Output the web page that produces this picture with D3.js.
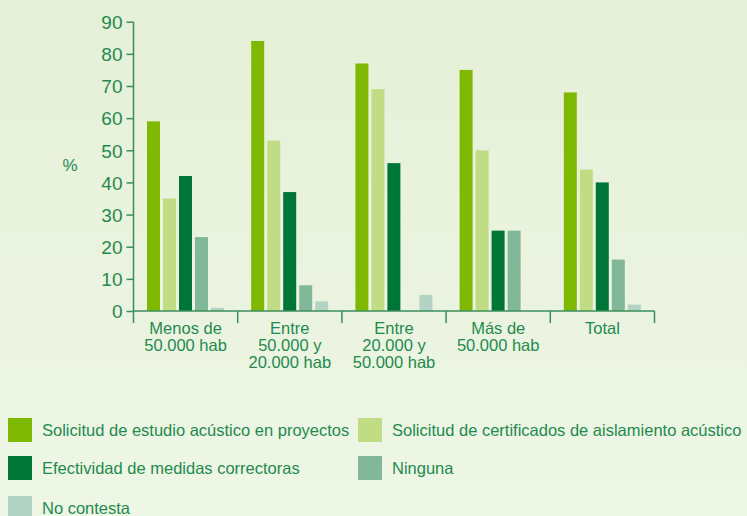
<!DOCTYPE html>
<html><head><meta charset="utf-8">
<script src="https://cdn.jsdelivr.net/npm/d3@7"></script>
<style>html,body{margin:0;padding:0;overflow:hidden}svg{display:block}</style>
</head><body>
<svg id="chart" width="747" height="516"></svg>
<script>
const categories = [["Menos de","50.000 hab"],["Entre","50.000 y","20.000 hab"],["Entre","20.000 y","50.000 hab"],["Más de","50.000 hab"],["Total"]];
const categoryKeys = ["c1","c2","c3","c4","c5"];
const seriesNames = ["Solicitud de estudio acústico en proyectos","Solicitud de certificados de aislamiento acústico","Efectividad de medidas correctoras","Ninguna","No contesta"];
const seriesColors = ["#7fb800","#c0dd85","#007538","#80b899","#b3d4c4"];
const values = [
  [59, 35, 42, 23, 1],
  [84, 53, 37, 8, 3],
  [77, 69, 46, 0, 5],
  [75, 50, 25, 25, 0],
  [68, 44, 40, 16, 2]
];
const yTicks = [0,10,20,30,40,50,60,70,80,90];

const svg = d3.select("#chart");
const defs = svg.append("defs");
const g = defs.append("linearGradient").attr("id","bg").attr("x1",0).attr("y1",0).attr("x2",0).attr("y2",1);
g.append("stop").attr("offset","0%").attr("stop-color","#e6f0d7");
g.append("stop").attr("offset","100%").attr("stop-color","#eef6e6");
svg.append("rect").attr("width",747).attr("height",516).attr("fill","url(#bg)");

const textColor = "#1f8a4e";
const axisColor = "#3d8c5d";
const font = "'Liberation Sans', Arial, sans-serif";

const x0 = d3.scaleBand().domain(categoryKeys).range([133.5, 654.5]);
const x1 = d3.scaleBand().domain(d3.range(seriesNames.length)).range([13.5, 90.5]).paddingInner(3/16);
const y = d3.scaleLinear().domain([0,90]).range([311, 21.7]);

// bars
const groups = svg.append("g").selectAll("g").data(values).join("g")
  .attr("transform",(d,i)=>`translate(${x0(categoryKeys[i])},0)`);
groups.selectAll("rect").data(d=>d.map((v,j)=>({v,j}))).join("rect")
  .attr("x",d=>x1(d.j)).attr("width",x1.bandwidth())
  .attr("y",d=>y(d.v)).attr("height",d=>y(0)-y(d.v))
  .attr("fill",d=>seriesColors[d.j]);

// y axis
const yAxis = svg.append("g").attr("transform","translate(133.5,0)")
  .call(d3.axisLeft(y).tickValues(yTicks).tickSize(7).tickPadding(4).tickSizeOuter(0));
yAxis.select(".domain").remove();
yAxis.append("line").attr("x1",0).attr("x2",0).attr("y1",y(90)).attr("y2",323).attr("stroke",axisColor).attr("stroke-width",1.5);
yAxis.selectAll(".tick line").attr("stroke",axisColor).attr("stroke-width",1.5);
yAxis.selectAll(".tick text").attr("fill",textColor).attr("font-family",font).attr("font-size",19).attr("dy","0.36em");

// x axis
const xAxis = svg.append("g").attr("transform","translate(0,311)");
xAxis.append("line").attr("x1",133.5).attr("x2",654.5).attr("y1",0).attr("y2",0).attr("stroke",axisColor).attr("stroke-width",1.5);
const bounds = categoryKeys.map(k=>x0(k)+x0.bandwidth());
xAxis.selectAll("line.div").data(bounds).join("line").attr("class","div")
  .attr("x1",d=>d).attr("x2",d=>d).attr("y1",0).attr("y2",12).attr("stroke",axisColor).attr("stroke-width",1.5);
const labels = xAxis.selectAll("text.cat").data(categories).join("text").attr("class","cat")
  .attr("x",(d,i)=>x0(categoryKeys[i])+x0.bandwidth()/2).attr("y",22.5)
  .attr("text-anchor","middle").attr("fill",textColor).attr("font-family",font).attr("font-size",16.5);
labels.selectAll("tspan").data(d=>d).join("tspan")
  .attr("x",function(){return this.parentNode.getAttribute("x");})
  .attr("dy",(d,i)=>i===0?0:17).text(d=>d);

// % label
svg.append("text").attr("x",70).attr("y",171).attr("text-anchor","middle").attr("fill",textColor)
  .attr("font-family",font).attr("font-size",17).text("%");

// legend
const legendPos = [[8,418],[358,418],[8,456],[358,456],[8,496]];
const leg = svg.append("g").selectAll("g").data(seriesNames).join("g")
  .attr("transform",(d,i)=>`translate(${legendPos[i][0]},${legendPos[i][1]})`);
leg.append("rect").attr("width",24).attr("height",24).attr("fill",(d,i)=>seriesColors[i]);
leg.append("text").attr("x",34).attr("y",12).attr("dy","0.35em").attr("fill",textColor)
  .attr("font-family",font).attr("font-size",16.5).text(d=>d);
</script>
</body></html>
